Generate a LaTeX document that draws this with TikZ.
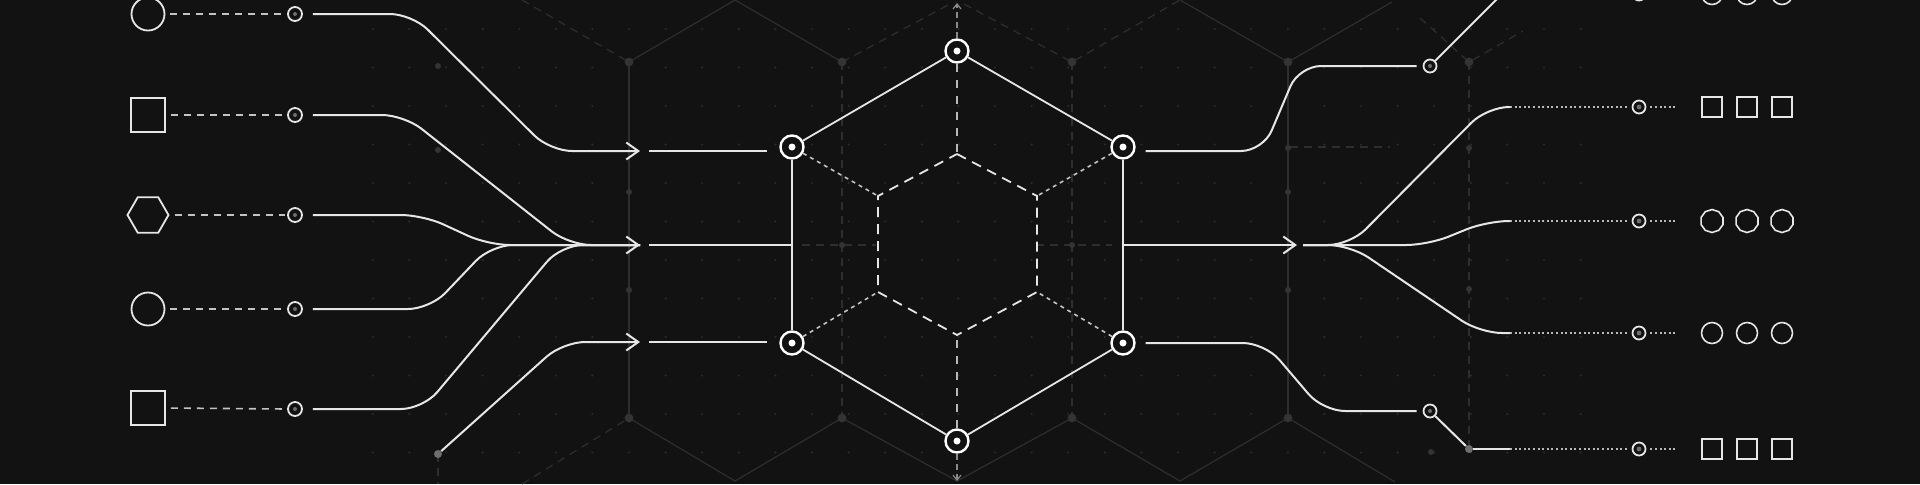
\documentclass[tikz,border=0pt]{standalone}
\usetikzlibrary{arrows.meta,shapes.geometric,calc}
\definecolor{bgc}{HTML}{121212}
\definecolor{fg}{HTML}{E6E6E6}
\definecolor{latc}{HTML}{2E2E2E}
\definecolor{gdot}{HTML}{2A2A2A}
\definecolor{ldot}{HTML}{343434}
\definecolor{midg}{HTML}{6E6E6E}
\begin{document}
\begin{tikzpicture}[x=0.5pt,y=-0.5pt,
 wire/.style={draw=fg,line width=1pt,rounded corners=11pt},
 chev/.style={-{Straight Barb[length=6pt,width=8.5pt]}},
 lshape/.style={draw=fg,line width=0.9pt,inner sep=0pt},
 pn/.style={circle,draw=fg,line width=0.9pt,minimum size=7pt,inner sep=0pt,fill=bgc},
 qn/.style={circle,draw=fg,line width=0.9pt,minimum size=6.5pt,inner sep=0pt,fill=bgc},
 hn/.style={circle,draw=white,line width=1.2pt,minimum size=11.5pt,inner sep=0pt,fill=bgc},
 gd/.style={circle,fill=midg,minimum size=4pt,inner sep=0pt},
 ldash/.style={draw=fg!85!black,line width=0.8pt,dash pattern=on 3.5pt off 3pt},
 dotl/.style={draw=fg!80!black,line width=0.8pt,dash pattern=on 1pt off 1.3pt},
 hedge/.style={draw=fg,line width=0.9pt},
 idash/.style={draw=fg,line width=0.9pt,dash pattern=on 5pt off 3.5pt},
 spk/.style={draw=fg!85!black,line width=0.8pt,dash pattern=on 2pt off 2pt},
 vspk/.style={draw=fg!80!black,line width=0.7pt,dash pattern=on 4pt off 4pt},
 garrow/.style={draw=fg!60!black,line width=0.6pt,dash pattern=on 3pt off 2pt,-{Straight Barb[length=2.5pt,width=4pt]}},
 lat/.style={draw=latc,line width=0.6pt},
 latd/.style={lat,dash pattern=on 4pt off 3pt},
 rsq/.style={lshape,rectangle,minimum size=10pt,line width=0.8pt},
 rci/.style={lshape,circle,minimum size=10.5pt,line width=0.8pt},
 rdec/.style={lshape,regular polygon,regular polygon sides=10,shape border rotate=18,minimum size=11.5pt,line width=0.8pt}
]
\useasboundingbox (0,0) rectangle (1920,484);
\fill[bgc] (0,0) rectangle (1920,484);
\clip (0,0) rectangle (1920,484);

% background dot grid
\foreach \i in {0,...,33}{\foreach \j in {0,...,11}{\fill[gdot] ({372.8+36.6*\i},{29+38.5*\j}) circle (0.6pt);}}

% background lattice
\draw[latd] (522,0) -- (629,62);
\draw[lat] (629,62) -- (735,0) -- (842,62);
\draw[latd] (842,62) -- (950,4);
\draw[latd] (964,4) -- (1072,62) -- (1180,0);
\draw[lat] (1180,0) -- (1288,62) -- (1392,2);
\draw[latd] (1420,18) -- (1469,62) -- (1523,31);
\draw[lat] (629,62) -- (629,418);
\draw[latd] (842,62) -- (842,418);
\draw[latd] (1072,62) -- (1072,418);
\draw[lat] (1288,62) -- (1288,418);
\draw[latd] (1469,62) -- (1469,449);
\draw[latd] (438,454) -- (438,484);
\draw[latd] (522,484) -- (629,418);
\draw[lat] (629,418) -- (735,481) -- (842,418) -- (957,481) -- (1072,418) -- (1180,481) -- (1288,418) -- (1395,482);
\draw[latd] (802,245) -- (876,245);
\draw[latd] (1036,245) -- (1112,245);
\draw[latd] (1290,147) -- (1390,147);
\foreach \p in {(629,62),(842,62),(1072,62),(1288,62),(1469,62),(629,418),(842,418),(1072,418),(1288,418)} \fill[ldot] \p circle (2.2pt);
\foreach \p in {(629,192),(629,290),(1288,192),(1288,290),(1288,148),(1469,148),(1469,289),(438,66),(438,150),(842,245),(1072,245),(1431,452)} \fill[ldot] \p circle (1.5pt);

% coordinates
\coordinate (a1) at (640,151); \coordinate (b1) at (649,151);
\coordinate (m1) at (575,245);
\coordinate (a2) at (640,245); \coordinate (b2) at (649,245);
\coordinate (a3) at (640,342); \coordinate (b3) at (649,342);
\coordinate (a4) at (1297,245); \coordinate (b4) at (1303,245);
\coordinate (c1) at (1510,107); \coordinate (c2) at (1510,221);
\coordinate (c3) at (1510,333); \coordinate (c4) at (1510,449);
\coordinate (t1) at (1676,107); \coordinate (t2) at (1676,221);
\coordinate (t3) at (1676,333); \coordinate (t4) at (1676,449);
\coordinate (e1) at (1506,-10);
\coordinate (tt) at (957,3); \coordinate (bb) at (957,481);

% left shapes
\node[lshape,circle,minimum size=16.5pt] (s1) at (148,14) {};
\node[lshape,rectangle,minimum size=17pt] (s2) at (148,115) {};
\node[lshape,regular polygon,regular polygon sides=6,minimum size=20.5pt] (s3) at (148,215) {};
\node[lshape,circle,minimum size=16.5pt] (s4) at (148,309) {};
\node[lshape,rectangle,minimum size=17pt] (s5) at (148,408) {};
\foreach \k/\y in {1/14,2/115,3/215,4/309,5/409}{
  \node[pn] (p\k) at (295,\y) {};
  \fill[midg] (p\k) circle (1pt);
  \draw[ldash,shorten <=2.5pt,shorten >=1pt] (s\k.east) -- (p\k.west);
}
\node[gd] (d1) at (438,454) {};

% left wires
\draw[wire,chev] ([xshift=5pt]p1.east) -- (412,14) -- (550,151) -- (a1);
\draw[wire] ([xshift=5pt]p2.east) -- (404,115) -- (569,245) -- (a2);
\draw[wire] ([xshift=5pt]p3.east) -- (423,215) -- (488,245) -- (a2);
\draw[wire] ([xshift=5pt]p4.east) -- (430,309) -- (491,245) -- (a2);
\draw[wire] ([xshift=5pt]p5.east) -- (423,409) -- (561,245) -- (a2);
\draw[wire,chev] (m1) -- (a2);
\draw[wire,chev] (d1) -- (563,342) -- (a3);

% central hexagon
\node[hn] (T)  at (957,51) {};
\node[hn] (UL) at (792,147) {};
\node[hn] (UR) at (1123,147) {};
\node[hn] (LL) at (792,343) {};
\node[hn] (LR) at (1123,343) {};
\node[hn] (B)  at (957,441) {};
\coordinate (i1) at (957,154); \coordinate (i2) at (1037,196);
\coordinate (i3) at (1037,292); \coordinate (i4) at (957,335);
\coordinate (i5) at (878,292); \coordinate (i6) at (878,196);

\draw[wire,shorten >=6pt] (b1) -- (b1 -| UL.west);
\draw[wire] (b2) -- (b2 -| UL);
\draw[wire,shorten >=6pt] (b3) -- (b3 -| LL.west);

\draw[hedge] (T) -- (UL);
\draw[hedge] (UL) -- (LL);
\draw[hedge] (LL) -- (B);
\draw[hedge] (B) -- (LR);
\draw[hedge] (LR) -- (UR);
\draw[hedge] (UR) -- (T);
\draw[idash] (i1) -- (i2) -- (i3) -- (i4) -- (i5) -- (i6) -- cycle;
\draw[spk] (UL) -- (i6);
\draw[spk] (UR) -- (i2);
\draw[spk] (LL) -- (i5);
\draw[spk] (LR) -- (i3);
\draw[vspk] (T) -- (i1);
\draw[vspk] (B) -- (i4);
\draw[garrow] (T) -- (tt);
\draw[garrow] (B) -- (bb);
\foreach \n in {T,UL,UR,LL,LR,B} \fill[white] (\n) circle (1.75pt);

% right side
\node[qn] (q1) at (1430,66) {};
\node[qn] (q2) at (1430,411) {};
\node[gd] (d2) at (1469,449) {};
\foreach \n in {q1,q2} \fill[midg] (\n) circle (1pt);
\draw[wire,shorten >=3pt] ([xshift=5pt,yshift=-2pt]UR.east) -- (1263,151) -- (1299,66) -- (q1);
\draw[wire] (q1) -- (e1);
\draw[wire,shorten >=3pt] ([xshift=5pt]LR.east) -- (1265,343) -- (1323,411) -- (q2);
\draw[wire] (q2) -- (d2);
\draw[wire] (d2) -- (c4);
\draw[wire,chev] (a4 -| UR) -- (a4);
\draw[wire] (b4) -- (1350,245) -- (1487,107) -- (c1);
\draw[wire] (b4) -- (1428,245) -- (1487,221) -- (c2);
\draw[wire] (b4) -- (1350,245) -- (1480,333) -- (c3);

\foreach \k/\y in {0/-6,1/107,2/221,3/333,4/449}{
  \node[qn] (r\k) at (1639,\y) {};
  \fill[midg] (r\k) circle (1.2pt);
}
\foreach \k in {1,2,3,4}{
  \draw[dotl,shorten >=2pt] (c\k) -- (r\k.west);
  \draw[dotl,shorten <=2pt] (r\k.east) -- (t\k);
}
\foreach \x/\l in {1712/a,1747/b,1782/c}{
  \node[rci] (x0\l) at (\x,-6) {};
  \node[rsq] (x1\l) at (\x,107) {};
  \node[rdec] (x2\l) at (\x,221) {};
  \node[rci] (x3\l) at (\x,333) {};
  \node[rsq] (x4\l) at (\x,449) {};
}
\end{tikzpicture}
\end{document}
